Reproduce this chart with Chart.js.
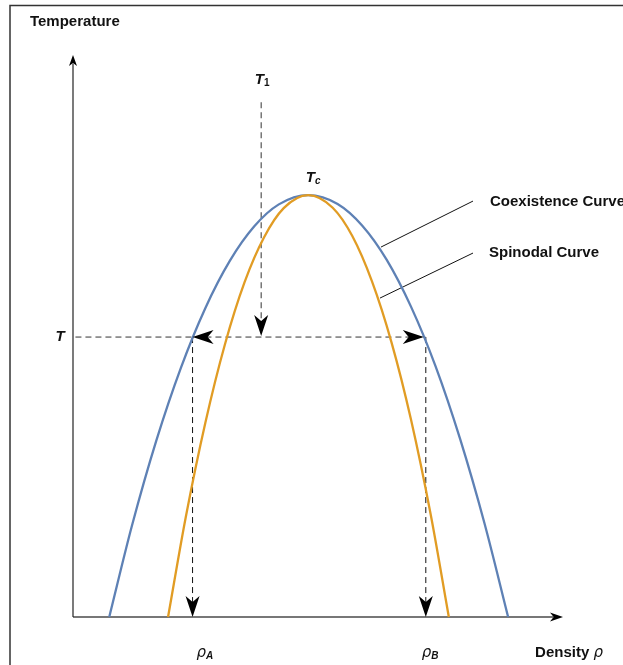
<!DOCTYPE html>
<html>
<head>
<meta charset="utf-8">
<script src="https://cdn.jsdelivr.net/npm/chart.js@4.4.1/dist/chart.umd.min.js"></script>
<style>
  body { margin: 0; background: #fff; }
  #wrap { position: relative; width: 623px; height: 665px; }
</style>
</head>
<body>
<div id="wrap"><canvas id="phaseChart" width="623" height="665"></canvas></div>
<script>
// Coexistence curve (density, temperature)
const rhoCoex  = [0.074, 0.12, 0.17, 0.22, 0.27, 0.32, 0.37, 0.42, 0.48, 0.54, 0.59, 0.64, 0.69, 0.74, 0.79, 0.84, 0.888];
const tempCoex = [0.0, 0.215, 0.418, 0.590, 0.732, 0.844, 0.926, 0.978, 1.0, 0.979, 0.928, 0.847, 0.735, 0.594, 0.422, 0.221, 0.0];

// Spinodal curve
const rhoSpin  = [0.194, 0.23, 0.27, 0.31, 0.35, 0.39, 0.43, 0.48, 0.53, 0.57, 0.61, 0.65, 0.69, 0.73, 0.767];
const tempSpin = [0.0, 0.236, 0.460, 0.646, 0.793, 0.900, 0.969, 1.0, 0.970, 0.903, 0.796, 0.651, 0.467, 0.243, 0.0];

// Quench path and the two coexisting densities
const tempT = 0.6635;   // level T
const tempT1 = 1.22;    // start of the quench, T1
const rhoT1 = 0.384;
const rhoA = 0.244;
const rhoB = 0.72;

// Axis extents
const rhoMax = 1.0;
const tempMax = 1.332;

// Leader lines to the curve names [rho, temp] pairs
const coexLeader = [[0.8163, 0.9858], [0.6286, 0.8768]];
const spinLeader = [[0.8163, 0.8626], [0.6265, 0.7559]];

const blue = '#5E81B5';
const orange = '#E19C24';
const dashGray = '#333';
const boldFont = 'bold 15px "Liberation Sans", Arial, sans-serif';

function pts(xs, ys) {
    return xs.map((x, i) => ({ x: x, y: ys[i] }));
}

function lineSet(data, color, width, dash, order) {
    return {
        data: data,
        showLine: true,
        borderColor: color,
        borderWidth: width,
        borderDash: dash || [],
        pointRadius: 0,
        fill: false,
        clip: false,
        order: order
    };
}

// Concave arrowhead, tip at (x, y), pointing along angle
function drawArrow(ctx, x, y, angle, len, half) {
    ctx.save();
    ctx.translate(x, y);
    ctx.rotate(angle);
    ctx.beginPath();
    ctx.moveTo(0, 0);
    ctx.lineTo(-len, -half);
    ctx.lineTo(-len * 0.72, 0);
    ctx.lineTo(-len, half);
    ctx.closePath();
    ctx.fillStyle = '#000';
    ctx.fill();
    ctx.restore();
}

// Text made of pieces with their own font and vertical offset
function drawRich(ctx, parts, x, y, align) {
    let total = 0;
    parts.forEach(p => { ctx.font = p.font; total += ctx.measureText(p.text).width; });
    let cx = align === 'center' ? x - total / 2 : x;
    ctx.textAlign = 'left';
    ctx.textBaseline = 'middle';
    ctx.fillStyle = '#111';
    parts.forEach(p => {
        ctx.font = p.font;
        ctx.fillText(p.text, cx, y + (p.dy || 0));
        cx += ctx.measureText(p.text).width;
    });
}

const decorations = {
    id: 'decorations',
    beforeDraw(chart) {
        const ctx = chart.ctx;
        ctx.save();
        ctx.fillStyle = '#fff';
        ctx.fillRect(0, 0, chart.width, chart.height);
        // frame around the figure
        ctx.strokeStyle = '#333';
        ctx.lineWidth = 1.5;
        ctx.strokeRect(10, 5.5, chart.width + 20, chart.height + 20);
        ctx.restore();
    },
    afterDatasetsDraw(chart) {
        const ctx = chart.ctx;
        const xs = chart.scales.x;
        const ys = chart.scales.y;
        const px = v => xs.getPixelForValue(v);
        const py = v => ys.getPixelForValue(v);
        ctx.save();

        // axis arrowheads
        drawArrow(ctx, px(0), py(tempMax), -Math.PI / 2, 11, 4);
        drawArrow(ctx, px(rhoMax), py(0), 0, 13, 4.5);

        // quench arrows
        drawArrow(ctx, px(rhoT1), py(tempT) - 1, Math.PI / 2, 21, 7);
        drawArrow(ctx, px(rhoA), py(tempT), Math.PI, 21, 7);
        drawArrow(ctx, px(rhoB) - 2, py(tempT), 0, 21, 7);
        drawArrow(ctx, px(rhoA), py(0), Math.PI / 2, 21, 7);
        drawArrow(ctx, px(rhoB), py(0), Math.PI / 2, 21, 7);

        // labels
        const italic = 'italic bold 15px "Liberation Sans", Arial, sans-serif';
        const subBold = 'bold 10px "Liberation Sans", Arial, sans-serif';
        const subItalic = 'italic bold 10px "Liberation Sans", Arial, sans-serif';
        const rhoFont = 'italic 15px "DejaVu Sans", sans-serif';

        drawRich(ctx, [{ text: 'Temperature', font: boldFont }], px(-0.0878), py(1.41), 'left');
        drawRich(ctx, [{ text: 'T', font: italic }, { text: '1', font: subBold, dy: 3 }], px(0.386), py(1.2725), 'center');
        drawRich(ctx, [{ text: 'T', font: italic }, { text: 'c', font: subItalic, dy: 3 }], px(0.49), py(1.04), 'center');
        drawRich(ctx, [{ text: 'T', font: italic }], px(-0.0265), py(tempT), 'center');
        drawRich(ctx, [{ text: 'ρ', font: rhoFont }, { text: 'A', font: subItalic, dy: 3 }], px(0.269), py(-0.0853), 'center');
        drawRich(ctx, [{ text: 'ρ', font: rhoFont }, { text: 'B', font: subItalic, dy: 3 }], px(0.7286), py(-0.0853), 'center');
        drawRich(ctx, [{ text: 'Density ', font: boldFont }, { text: 'ρ', font: rhoFont }], px(0.943), py(-0.0853), 'left');
        drawRich(ctx, [{ text: 'Coexistence Curve', font: boldFont }], px(0.851), py(0.9834), 'left');
        drawRich(ctx, [{ text: 'Spinodal Curve', font: boldFont }], px(0.849), py(0.8626), 'left');

        ctx.restore();
    }
};

const ctx = document.getElementById('phaseChart').getContext('2d');

const spinSet = lineSet(pts(rhoSpin, tempSpin), orange, 2.3, null, 0);
spinSet.cubicInterpolationMode = 'monotone';
const coexSet = lineSet(pts(rhoCoex, tempCoex), blue, 2.3, null, 1);
coexSet.cubicInterpolationMode = 'monotone';

const datasets = [
    spinSet,
    coexSet,
    // axes
    lineSet([{ x: 0, y: 0 }, { x: 0, y: tempMax - 0.02 }], '#222', 1.2, null, 3),
    lineSet([{ x: 0, y: 0 }, { x: rhoMax - 0.02, y: 0 }], '#777', 1.8, null, 3),
    // dashed guide lines
    lineSet([{ x: 0.005, y: tempT }, { x: rhoB, y: tempT }], dashGray, 1, [6, 4], 2),
    lineSet([{ x: rhoT1, y: tempT1 }, { x: rhoT1, y: tempT + 0.02 }], dashGray, 1, [6, 4], 2),
    lineSet([{ x: rhoA, y: tempT }, { x: rhoA, y: 0.02 }], '#111', 1, [6, 4], 2),
    lineSet([{ x: rhoB, y: tempT }, { x: rhoB, y: 0.02 }], '#111', 1, [6, 4], 2),
    // leader lines
    lineSet(coexLeader.map(p => ({ x: p[0], y: p[1] })), '#111', 1, null, 2),
    lineSet(spinLeader.map(p => ({ x: p[0], y: p[1] })), '#111', 1, null, 2)
];

new Chart(ctx, {
    type: 'scatter',
    data: { datasets: datasets },
    options: {
        responsive: false,
        animation: false,
        layout: { padding: { left: 73, right: 60, top: 55, bottom: 48 } },
        plugins: { legend: { display: false }, tooltip: { enabled: false } },
        scales: {
            x: { type: 'linear', min: 0, max: rhoMax, display: false },
            y: { type: 'linear', min: 0, max: tempMax, display: false }
        }
    },
    plugins: [decorations]
});
</script>
</body>
</html>
